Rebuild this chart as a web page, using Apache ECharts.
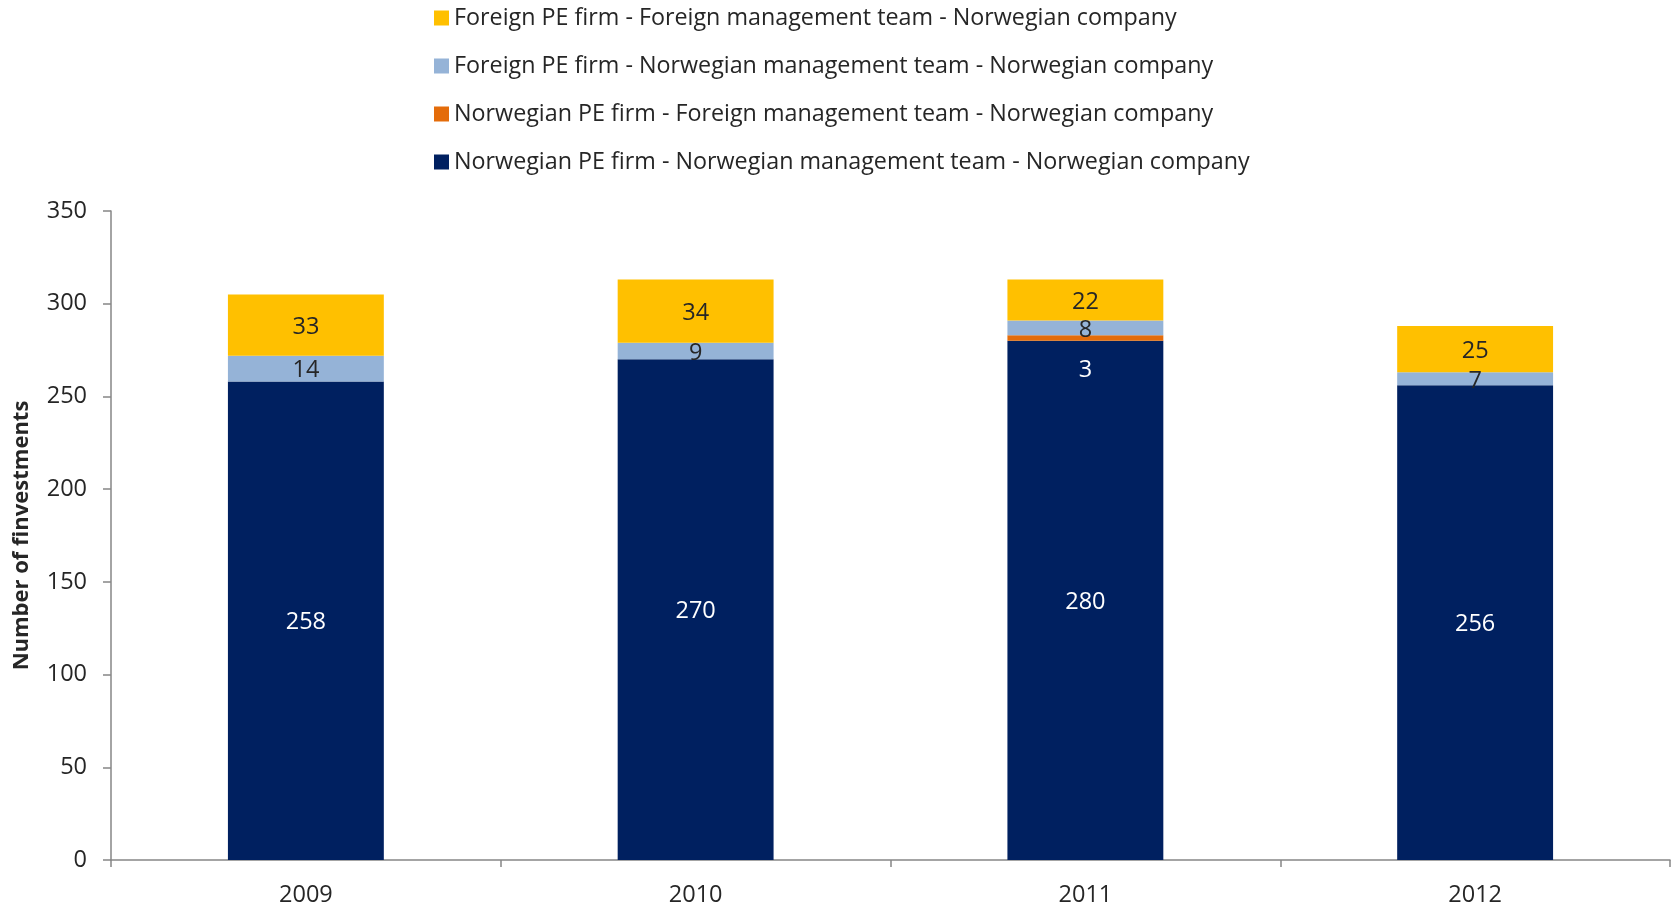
<!DOCTYPE html>
<html>
<head>
<meta charset="utf-8">
<script src="https://cdn.jsdelivr.net/npm/echarts@6/dist/echarts.min.js"></script>
<style>html,body{margin:0;padding:0;background:#fff}#c{width:1675px;height:909px}</style>
</head>
<body>
<div id="c"></div>
<script>
const categories = ['2009', '2010', '2011', '2012'];
const seriesNames = [
  'Norwegian PE firm - Norwegian management team - Norwegian company',
  'Norwegian PE firm - Foreign management team - Norwegian company',
  'Foreign PE firm - Norwegian management team - Norwegian company',
  'Foreign PE firm - Foreign management team - Norwegian company'
];
const norNor = [258, 270, 280, 256];
const norFor = [0, 0, 3, 0];
const forNor = [14, 9, 8, 7];
const forFor = [33, 34, 22, 25];
const yTicks = [0, 50, 100, 150, 200, 250, 300, 350];
const colors = ['#002060', '#E46C0A', '#95B3D7', '#FFC000'];

const FONT = 'Open Sans';
const TXT = '#262626';
const valuesList = [norNor, norFor, forNor, forFor];

const chart = echarts.init(document.getElementById('c'), null, {renderer: 'canvas'});
const series = valuesList.map((vals, i) => ({
  name: seriesNames[i],
  type: 'bar',
  stack: 'total',
  barWidth: '40%',
  itemStyle: {color: colors[i]},
  data: vals.map(v => {
    const d = {value: v};
    if (v === 0) d.label = {show: false};
    else if (i === 1) d.label = {show: true, offset: [0, 32], color: '#ffffff'};
    return d;
  }),
  label: {
    show: true,
    position: 'inside',
    offset: [0, 2],
    fontFamily: FONT,
    fontSize: 23.5,
    color: i === 0 ? '#ffffff' : TXT
  }
}));

chart.setOption({
  animation: false,
  backgroundColor: '#ffffff',
  textStyle: {fontFamily: FONT},
  legend: {
    orient: 'vertical',
    left: 429,
    top: 1,
    itemWidth: 15,
    itemHeight: 15,
    itemGap: 24,
    icon: 'rect',
    data: [seriesNames[3], seriesNames[2], seriesNames[1], seriesNames[0]],
    textStyle: {fontFamily: FONT, fontSize: 23.3, color: TXT, lineHeight: 24}
  },
  grid: {left: 111, right: 5, top: 211, bottom: 49, containLabel: false, outerBoundsMode: 'none'},
  xAxis: {
    type: 'category',
    data: categories,
    axisLine: {lineStyle: {color: '#868686', width: 1.5}},
    axisTick: {show: true, alignWithLabel: false, length: 7, lineStyle: {color: '#868686', width: 1.5}},
    axisLabel: {fontFamily: FONT, fontSize: 23.5, color: TXT, margin: 23}
  },
  yAxis: {
    type: 'value',
    min: yTicks[0],
    max: yTicks[yTicks.length - 1],
    interval: yTicks[1] - yTicks[0],
    name: 'Number of finvestments',
    nameLocation: 'middle',
    nameGap: 78,
    nameTextStyle: {fontFamily: FONT, fontSize: 22, fontWeight: 'bold', color: TXT},
    axisLine: {show: true, lineStyle: {color: '#868686', width: 1.5}},
    axisTick: {show: true, length: 8, lineStyle: {color: '#868686', width: 1.5}},
    splitLine: {show: false},
    axisLabel: {fontFamily: FONT, fontSize: 23.5, color: TXT, margin: 24}
  },
  series: series
});
</script>
</body>
</html>
